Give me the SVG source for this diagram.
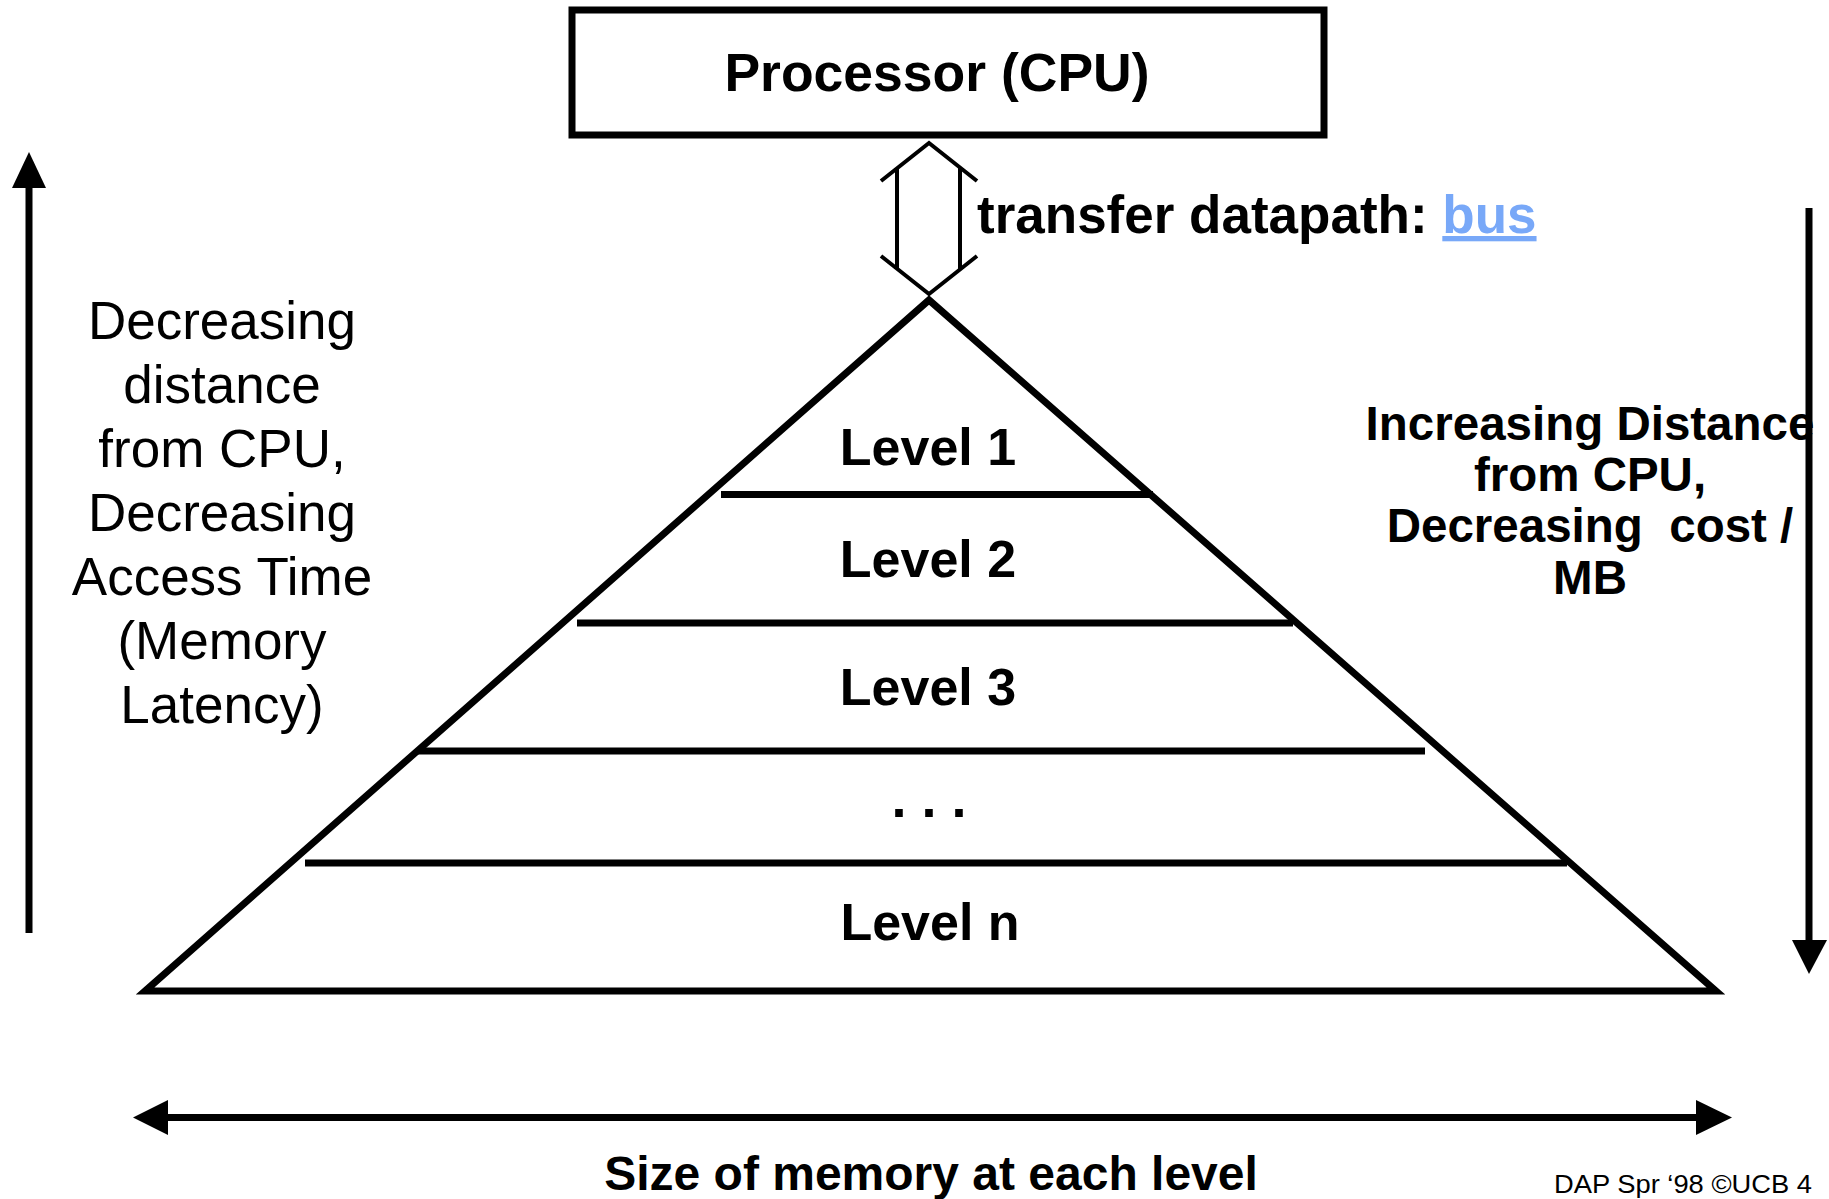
<svg xmlns="http://www.w3.org/2000/svg" width="1829" height="1199" viewBox="0 0 1829 1199">
<style>
  .bold { font-family: "Liberation Sans", Arial, sans-serif; font-weight: bold; fill: #000; }
  .reg { font-family: "Liberation Sans", Arial, sans-serif; font-weight: normal; fill: #000; }
  .mid { text-anchor: middle; }
  .thick { stroke: #000; stroke-width: 7; fill: none; }
  .thin { stroke: #000; stroke-width: 4; fill: none; }
  .head { fill: #000; stroke: none; }
  .link { fill: #78a8f8; text-decoration: underline; }
</style>
<rect width="1829" height="1199" fill="#fff"/>

<g id="cpu">
  <rect x="572" y="10" width="752" height="125" class="thick"/>
  <text x="937" y="91" class="bold mid" font-size="53.5">Processor (CPU)</text>
</g>

<g id="connectors">
  <g id="bus-arrow">
    <path class="thin" d="M881,181 L929,143 L977,181 M881,256 L929,294 L977,256 M897,168 V269 M960,168 V269"/>
  </g>
  <g id="left-axis">
    <line x1="29" y1="933" x2="29" y2="180" class="thick"/>
    <polygon class="head" points="29,152 12,188 46,188"/>
  </g>
  <g id="right-axis">
    <line x1="1809" y1="208" x2="1809" y2="945" class="thick" stroke-width="8"/>
    <polygon class="head" points="1792,940 1827,940 1809,974"/>
  </g>
  <g id="size-axis">
    <line x1="160" y1="1117.5" x2="1705" y2="1117.5" class="thick" stroke-width="9"/>
    <polygon class="head" points="133,1117.5 168,1100 168,1135"/>
    <polygon class="head" points="1732,1117.5 1696,1100 1696,1135"/>
  </g>
</g>

<g id="bus-label">
  <text x="977" y="233" class="bold" font-size="53">transfer datapath: <tspan class="link">bus</tspan></text>
</g>

<g id="pyramid">
  <polygon points="929,300 1716,991 145,991" class="thick" stroke-miterlimit="10"/>
  <line x1="721" y1="494.5" x2="1153" y2="494.5" class="thick"/>
  <line x1="577" y1="623" x2="1293" y2="623" class="thick"/>
  <line x1="418" y1="751" x2="1425" y2="751" class="thick"/>
  <line x1="305" y1="863" x2="1567" y2="863" class="thick"/>
</g>

<g id="level1"><text x="928" y="465" class="bold mid" font-size="52">Level 1</text></g>
<g id="level2"><text x="928" y="577" class="bold mid" font-size="52">Level 2</text></g>
<g id="level3"><text x="928" y="705" class="bold mid" font-size="52">Level 3</text></g>
<g id="levels-more"><text x="929" y="817" class="bold mid" font-size="54">. . .</text></g>
<g id="leveln"><text x="930" y="940" class="bold mid" font-size="52">Level n</text></g>

<g id="left-label">
  <text class="reg mid" font-size="53"><tspan x="222" y="339">Decreasing</tspan><tspan x="222" y="403">distance</tspan><tspan x="222" y="467">from CPU,</tspan><tspan x="222" y="531">Decreasing</tspan><tspan x="222" y="595">Access Time</tspan><tspan x="222" y="659">(Memory</tspan><tspan x="222" y="723">Latency)</tspan></text>
</g>

<g id="right-label">
  <text class="bold mid" font-size="47.5"><tspan x="1590" y="440">Increasing Distance</tspan><tspan x="1590" y="491">from CPU,</tspan><tspan x="1590" y="542">Decreasing&#160; cost /</tspan><tspan x="1590" y="594">MB</tspan></text>
</g>

<g id="size-label">
  <text x="931" y="1190" class="bold mid" font-size="48">Size of memory at each level</text>
</g>

<g id="footer">
  <text x="1554" y="1193" class="reg" font-size="26" textLength="258" lengthAdjust="spacingAndGlyphs">DAP Spr ‘98 ©UCB 4</text>
</g>
</svg>
